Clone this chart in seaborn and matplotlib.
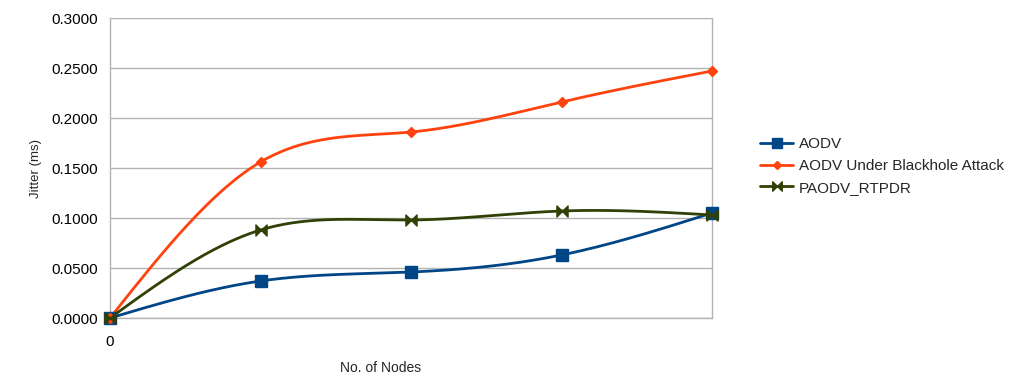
import numpy as np
import pandas as pd
import matplotlib
matplotlib.use("Agg")
import matplotlib.pyplot as plt
from matplotlib.path import Path
from matplotlib.lines import Line2D
import seaborn as sns

# ---- data ----
categories = [0, 1, 2, 3, 4]
tick_labels = ["0", "", "", "", ""]
aodv = [0.0, 0.037, 0.046, 0.063, 0.105]
aodv_blackhole = [0.0, 0.156, 0.186, 0.216, 0.247]
paodv_rtpdr = [0.0, 0.088, 0.098, 0.107, 0.103]
series_names = ["AODV", "AODV Under Blackhole Attack", "PAODV_RTPDR"]
y_ticks = [0.0, 0.05, 0.10, 0.15, 0.20, 0.25, 0.30]

colors = ["#004586", "#ff420e", "#314004"]

# bowtie marker
bowtie = Path(
    [(-1, -1), (-1, 1), (0, 0), (-1, -1), (1, -1), (1, 1), (0, 0), (1, -1)],
    [Path.MOVETO, Path.LINETO, Path.LINETO, Path.CLOSEPOLY,
     Path.MOVETO, Path.LINETO, Path.LINETO, Path.CLOSEPOLY],
)
markers = ["s", "D", bowtie]
msizes = [8.0, 5.0, 8.0]


def natural_spline(x, y, n=200):
    x = np.asarray(x, float)
    y = np.asarray(y, float)
    k = len(x)
    h = np.diff(x)
    A = np.zeros((k, k))
    b = np.zeros(k)
    A[0, 0] = 1
    A[-1, -1] = 1
    for i in range(1, k - 1):
        A[i, i - 1] = h[i - 1]
        A[i, i] = 2 * (h[i - 1] + h[i])
        A[i, i + 1] = h[i]
        b[i] = 3 * ((y[i + 1] - y[i]) / h[i] - (y[i] - y[i - 1]) / h[i - 1])
    c = np.linalg.solve(A, b)
    xs = np.linspace(x[0], x[-1], n)
    ys = np.empty_like(xs)
    for j, xv in enumerate(xs):
        i = min(np.searchsorted(x, xv, side="right") - 1, k - 2)
        dx = xv - x[i]
        bi = (y[i + 1] - y[i]) / h[i] - h[i] * (2 * c[i] + c[i + 1]) / 3
        di = (c[i + 1] - c[i]) / (3 * h[i])
        ys[j] = y[i] + bi * dx + c[i] * dx ** 2 + di * dx ** 3
    return xs, ys


sns.set_style("white")
plt.rcParams["font.family"] = ["Liberation Sans", "DejaVu Sans"]

fig = plt.figure(figsize=(10.11, 3.76), dpi=100)
ax = fig.add_axes([110 / 1011, 58 / 376, 602 / 1011, 300 / 376])

all_series = [aodv, aodv_blackhole, paodv_rtpdr]
handles = []
for vals, name, col, mk, ms in zip(all_series, series_names, colors, markers, msizes):
    xs, ys = natural_spline(categories, vals)
    sns.lineplot(x=xs, y=ys, ax=ax, color=col, linewidth=2.0, zorder=3)
    ax.plot(categories, vals, linestyle="none", marker=mk, markersize=ms,
            color=col, markeredgecolor=col, zorder=4, clip_on=False)
    handles.append(Line2D([0], [0], color=col, linewidth=2.0, marker=mk,
                          markersize=ms * 0.85, markeredgecolor=col))

ax.set_xlim(0, 4)
ax.set_ylim(0, 0.3)
ax.set_xticks(categories)
ax.set_xticklabels(tick_labels)
ax.set_yticks(y_ticks)
ax.set_yticklabels([f"{v:.4f}" for v in y_ticks])
ax.grid(axis="y", color="#b3b3b3", linewidth=1.0)
ax.grid(axis="x", visible=False)
ax.set_axisbelow(True)

for s in ["left", "bottom", "right"]:
    ax.spines[s].set_color("#b3b3b3")
    ax.spines[s].set_linewidth(1.0)
ax.spines["top"].set_visible(False)

ax.tick_params(axis="both", which="both", direction="out", length=5,
               color="#b3b3b3", labelsize=11, labelcolor="#000000", pad=4)
ax.tick_params(axis="x", length=6, pad=6)

ax.set_ylabel("Jitter (ms)", fontsize=9.5)
ax.yaxis.set_label_coords(-0.113, 0.5)
ax.set_xlabel("")
fig.text(381 / 1011, 1 - 368 / 376, "No. of Nodes", fontsize=10,
         ha="center", va="center")

fig.legend(handles, series_names, loc="center left",
           bbox_to_anchor=(746 / 1011, 1 - 166 / 376), frameon=False,
           fontsize=11, handlelength=2.2, labelspacing=0.5, handletextpad=0.35)

fig.savefig("out.png", dpi=100)
